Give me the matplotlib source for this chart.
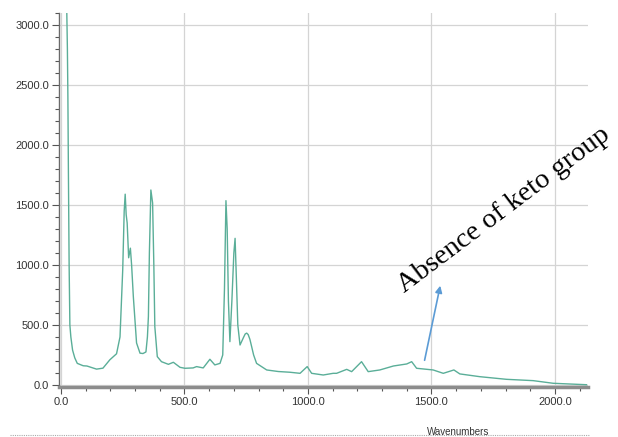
import matplotlib.pyplot as plt
from matplotlib.lines import Line2D
from matplotlib.ticker import MultipleLocator, FormatStrFormatter

# spectrum (wavenumber, intensity)
wavenumber = [22, 26, 28, 30, 33, 36, 40, 47, 56, 66, 90, 105, 117, 144, 170,
              198, 225, 239, 250, 256, 260, 264, 268, 274, 281, 286, 293, 306,
              320, 332, 344, 350, 354, 358, 364, 371, 376, 380, 390, 407, 435,
              455, 482, 502, 535, 549, 576, 603, 623, 644, 655, 662, 668, 673,
              678, 684, 692, 700, 705, 710, 716, 725, 740, 746, 752, 758, 765,
              772, 780, 792, 833, 880, 927, 968, 997, 1015, 1062, 1102, 1116,
              1157, 1177, 1217, 1244, 1291, 1346, 1400, 1420, 1440, 1507, 1548,
              1591, 1615, 1696, 1804, 1912, 1993, 2060, 2128]
intensity = [3300, 2800, 2400, 1800, 1000, 500, 400, 290, 225, 180, 160, 158,
             150, 132, 140, 210, 260, 400, 958, 1450, 1590, 1420, 1350, 1060,
             1140, 1000, 736, 350, 265, 262, 275, 400, 570, 1100, 1625, 1517,
             1000, 486, 236, 194, 172, 189, 147, 139, 142, 153, 142, 214, 167,
             180, 250, 800, 1536, 1300, 700, 361, 700, 1100, 1222, 900, 500,
             333, 400, 425, 432, 420, 380, 320, 250, 180, 125, 112, 106, 97,
             153, 97, 83, 97, 97, 130, 111, 194, 111, 125, 158, 175, 194, 139,
             125, 97, 125, 92, 69, 47, 36, 14, 8, 2]

note_text = "Absence of keto group"
note_xy = (1538, 850)     # arrow head
note_tail = (1470, 183)

plt.rcParams['font.family'] = ['Liberation Sans', 'DejaVu Sans']

fig = plt.figure(figsize=(6.18, 4.37), dpi=100)
ax = fig.add_axes([59/618, 1 - 387/437, (588 - 59)/618, (387 - 13)/437])

ax.plot(wavenumber, intensity, color='#5aae98', lw=1.0, zorder=3)

ax.set_xlim(-8, 2134)
ax.set_ylim(-17, 3100)

ax.xaxis.set_major_locator(MultipleLocator(500))
ax.xaxis.set_minor_locator(MultipleLocator(100))
ax.yaxis.set_major_locator(MultipleLocator(500))
ax.yaxis.set_minor_locator(MultipleLocator(100))
ax.xaxis.set_major_formatter(FormatStrFormatter('%.1f'))
ax.yaxis.set_major_formatter(FormatStrFormatter('%.1f'))

ax.grid(True, which='major', color='#d4d4d4', lw=0.9, zorder=0)
for s in ['top', 'right']:
    ax.spines[s].set_visible(False)
ax.spines['left'].set_color('#6a6a6a')
ax.spines['left'].set_linewidth(1.0)
ax.spines['bottom'].set_color('#8c8c8c')
ax.spines['bottom'].set_linewidth(2.5)

ax.tick_params(which='major', direction='out', length=5, width=0.8,
               color='#555555', labelsize=8, labelcolor='#333333', pad=2)
ax.tick_params(which='minor', direction='out', length=3, width=0.8,
               color='#555555')

ax.annotate('', xy=note_xy, xytext=note_tail,
            arrowprops=dict(arrowstyle='-|>', color='#5b9bd5', lw=1.2,
                            mutation_scale=10))
ax.text(1392, 762, note_text, rotation=37, rotation_mode='anchor',
        ha='left', va='baseline', fontsize=20.5, family='Liberation Serif',
        color='black', clip_on=False)

fig.text(458/618, 1 - 432/437, 'Wavenumbers', ha='center', va='center',
         fontsize=7, color='#333333')
fig.add_artist(Line2D([10/618, 590/618], [1 - 435/437] * 2,
                      color='#aaaaaa', lw=0.8, ls=(0, (1, 1))))

fig.savefig('out.png', dpi=100)
